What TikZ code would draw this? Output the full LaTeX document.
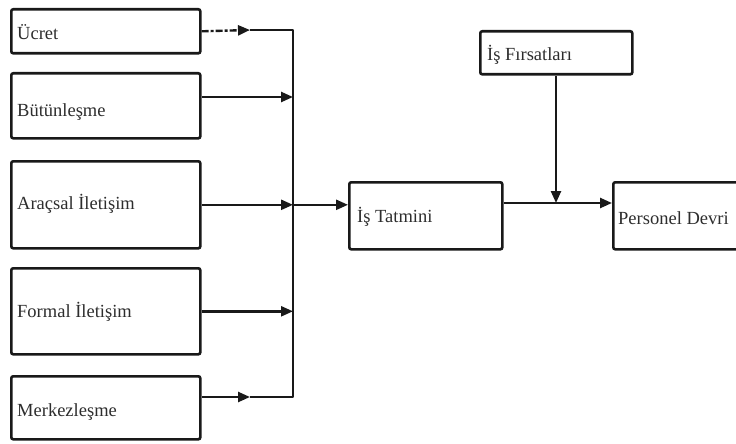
\documentclass[tikz,border=0pt]{standalone}
\usepackage{fontspec}
\setmainfont{Liberation Serif}
\usetikzlibrary{arrows.meta}
\definecolor{ink}{RGB}{25,25,25}
\definecolor{txt}{RGB}{45,45,45}
\begin{document}
\begin{tikzpicture}[x=1pt,y=-1pt,
  box/.style={draw=ink,line width=2.6pt,rounded corners=2pt,inner sep=0pt,anchor=north west},
  lbl/.style={anchor=west,inner sep=0pt,text=txt,font=\fontsize{18.5}{20}\selectfont},
  conn/.style={draw=ink,line width=2.4pt},
  tip/.style={-{Triangle[length=12pt,width=10pt]}}]
\useasboundingbox (0,0) rectangle (736,444);

% input boxes
\node[box,minimum width=189pt,minimum height=44pt] (ucret)   at (10,8)   {};
\node[box,minimum width=189pt,minimum height=65pt] (butun)   at (10,72)  {};
\node[box,minimum width=189pt,minimum height=87pt] (aracsal) at (10,160) {};
\node[box,minimum width=189pt,minimum height=86pt] (formal)  at (10,267) {};
\node[box,minimum width=189pt,minimum height=63pt] (merkez)  at (10,375) {};

% mediator, moderator and outcome boxes
\node[box,minimum width=153pt,minimum height=67pt] (tatmin)   at (348,181) {};
\node[box,minimum width=152pt,minimum height=43pt] (firsat)   at (479,30)  {};
\node[box,minimum width=128pt,minimum height=67pt] (personel) at (612,181) {};

% labels
\node[lbl] (ucretT)    at (17,32)  {Ücret};
\node[lbl] (butunT)    at (17,112) {Bütünleşme};
\node[lbl] (aracsalT)  at (17,204) {Araçsal İletişim};
\node[lbl] (formalT)   at (17,312) {Formal İletişim};
\node[lbl] (merkezT)   at (17,412) {Merkezleşme};
\node[lbl] (tatminT)   at (357,217) {İş Tatmini};
\node[lbl] (firsatT)   at (487,55)  {İş Fırsatları};
\node[lbl] (personelT) at (618,218) {Personel Devri};

% collecting bus
\coordinate (busT) at (293,30);
\coordinate (busB) at (293,397);
\coordinate (u1)   at (250,30);
\coordinate (m1)   at (250,397);
\coordinate (rowB) at (293,97);
\coordinate (join) at (556,203);

\draw[conn,tip,dash pattern=on 7pt off 2pt on 3pt off 2pt] (ucret.east) -- (u1);
\draw[conn,line join=round] (u1) -- (busT) -- (busB) -- (m1);
\draw[conn,tip] (merkez.east |- busB) -- (m1);
\draw[conn,tip] (butun.east |- rowB) -- (rowB);
\draw[conn,tip] (aracsal.east) -- (busT |- aracsal.east);
\draw[conn,tip] (formal.east) -- (busT |- formal.east);
\draw[conn,tip] (busT |- aracsal.east) -- (tatmin.west |- aracsal.east);

% outcome path with moderator
\draw[conn,tip] (tatmin.east |- join) -- (personel.west |- join);
\draw[conn,tip] (firsat.south -| join) -- (join);
\end{tikzpicture}
\end{document}
